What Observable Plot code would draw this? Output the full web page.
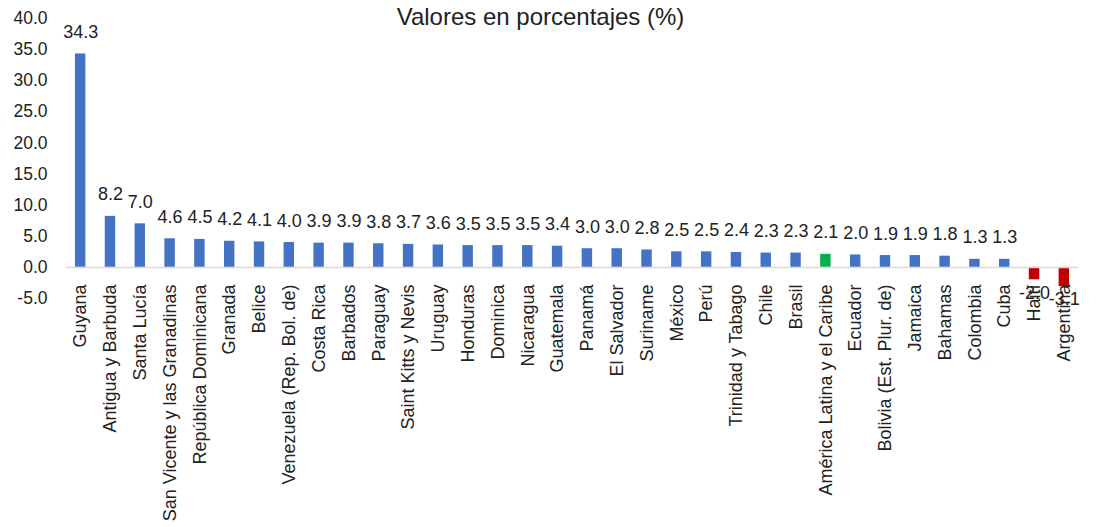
<!DOCTYPE html>
<html>
<head>
<meta charset="utf-8">
<script src="https://cdn.jsdelivr.net/npm/d3@7"></script>
<script src="https://cdn.jsdelivr.net/npm/@observablehq/plot@0.6"></script>
<style>
  html, body { margin: 0; padding: 0; background: #fff; }
  #chart svg { display: block; }
</style>
</head>
<body>
<div id="chart"></div>
<script>
const title = "Valores en porcentajes (%)";
const categories = [
  "Guyana", "Antigua y Barbuda", "Santa Lucía", "San Vicente y las Granadinas",
  "República Dominicana", "Granada", "Belice", "Venezuela (Rep. Bol. de)",
  "Costa Rica", "Barbados", "Paraguay", "Saint Kitts y Nevis", "Uruguay",
  "Honduras", "Dominica", "Nicaragua", "Guatemala", "Panamá", "El Salvador",
  "Suriname", "México", "Perú", "Trinidad y Tabago", "Chile", "Brasil",
  "América Latina y el Caribe", "Ecuador", "Bolivia (Est. Plur. de)", "Jamaica",
  "Bahamas", "Colombia", "Cuba", "Haití", "Argentina"
];
const values = [
  34.3, 8.2, 7.0, 4.6, 4.5, 4.2, 4.1, 4.0, 3.9, 3.9, 3.8, 3.7, 3.6, 3.5, 3.5,
  3.5, 3.4, 3.0, 3.0, 2.8, 2.5, 2.5, 2.4, 2.3, 2.3, 2.1, 2.0, 1.9, 1.9, 1.8,
  1.3, 1.3, -2.0, -3.1
];
const groups = categories.map(c =>
  c === "América Latina y el Caribe" ? "region" : (c === "Haití" || c === "Argentina") ? "neg" : "country");
const yTicks = [-5, 0, 5, 10, 15, 20, 25, 30, 35, 40];

const data = categories.map((c, i) => ({name: c, value: values[i], group: groups[i]}));
const pos = data.filter(d => d.value >= 0);
const neg = data.filter(d => d.value < 0);

const font = "'Liberation Sans', Arial, sans-serif";

const chart = Plot.plot({
  width: 1097,
  height: 527,
  marginTop: 18,
  marginBottom: 229,
  marginLeft: 66,
  marginRight: 19,
  style: {fontFamily: font, fontSize: "17px", color: "#222", background: "#fff"},
  x: {domain: categories, paddingInner: 0.65, paddingOuter: 0.3, round: false, axis: null},
  y: {domain: [-5, 40], axis: null},
  color: {domain: ["country", "region", "neg"], range: ["#4472C4", "#00B050", "#C00000"]},
  marks: [
    Plot.axisY({ticks: yTicks, tickSize: 0, tickPadding: 19, tickFormat: d => d.toFixed(1), fontSize: 17.5, label: null, fill: "#222"}),
    Plot.barY(data, {x: "name", y: "value", fill: "group"}),
    Plot.ruleY([0], {stroke: "#D9D9D9", strokeWidth: 1.5}),
    Plot.text(pos, {x: "name", y: "value", text: d => d.value.toFixed(1), lineAnchor: "bottom", dy: -16, fontSize: 18, fill: "#222"}),
    Plot.text(neg, {x: "name", y: "value", text: d => d.value.toFixed(1), lineAnchor: "top", dy: 6, fontSize: 18, fill: "#222"}),
    Plot.text(data, {x: "name", y: () => 0, text: "name", rotate: -90, textAnchor: "end", dy: 17, fontSize: 18, fill: "#222"}),
    Plot.text([title], {frameAnchor: "top", lineAnchor: "middle", dx: -32, dy: -1, fontSize: 24, fill: "#222"})
  ]
});
document.getElementById("chart").appendChild(chart);
</script>
</body>
</html>
